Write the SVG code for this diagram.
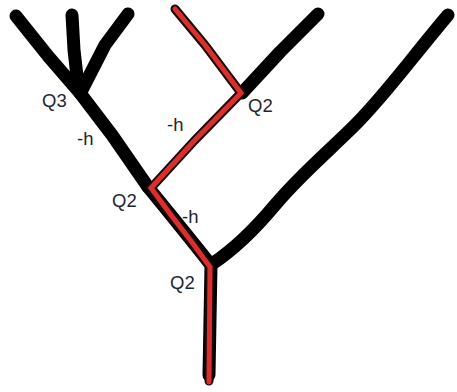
<svg xmlns="http://www.w3.org/2000/svg" width="457" height="392" viewBox="0 0 457 392">
<style>
.blk{fill:none;stroke:#000;stroke-width:13;stroke-linecap:round;stroke-linejoin:round}
.redo{fill:none;stroke:#1a0a0a;stroke-width:9;stroke-linecap:round;stroke-linejoin:miter}
.red{fill:none;stroke:#d9302e;stroke-width:5;stroke-linecap:round;stroke-linejoin:miter}
.lbl{font-family:"Liberation Sans",Arial,sans-serif;font-size:18.5px;fill:#1f2530}
</style>
<rect width="457" height="392" fill="#fff"/>
<g id="connectors">
<path class="blk" d="M16,16 L48,56 L80,93"/>
<path class="blk" d="M72,15 L74,50 L78,85"/>
<path class="blk" d="M128,14 L105,45 L82,90"/>
<path class="blk" d="M80,93 L112,135 L148,187"/>
<path class="blk" d="M148,187 L170,214 L191,240 L211,265 L209,375"/>
<path class="blk" d="M242,93 L280,52 L318,14"/>
<path class="blk" d="M212,264 C230,252 250,235 275,205 C300,175 330,150 355,125 C385,95 410,60 448,15"/>
<path class="redo" d="M175,9 L205,45 L241,93 L195,140 L151,188 L171,215 L191,241 L210,267 L209,381"/>
<path class="red" d="M175,9 L205,45 L241,93 L195,140 L151,188 L171,215 L191,241 L210,267 L209,382"/>
</g>
<g id="q3"><text class="lbl" x="42" y="107">Q3</text></g>
<g id="h1"><text class="lbl" x="77" y="145">-h</text></g>
<g id="h2"><text class="lbl" x="167" y="131">-h</text></g>
<g id="q2a"><text class="lbl" x="248" y="112">Q2</text></g>
<g id="q2b"><text class="lbl" x="112" y="207">Q2</text></g>
<g id="h3"><text class="lbl" x="182" y="223">-h</text></g>
<g id="q2c"><text class="lbl" x="170" y="289">Q2</text></g>
</svg>
